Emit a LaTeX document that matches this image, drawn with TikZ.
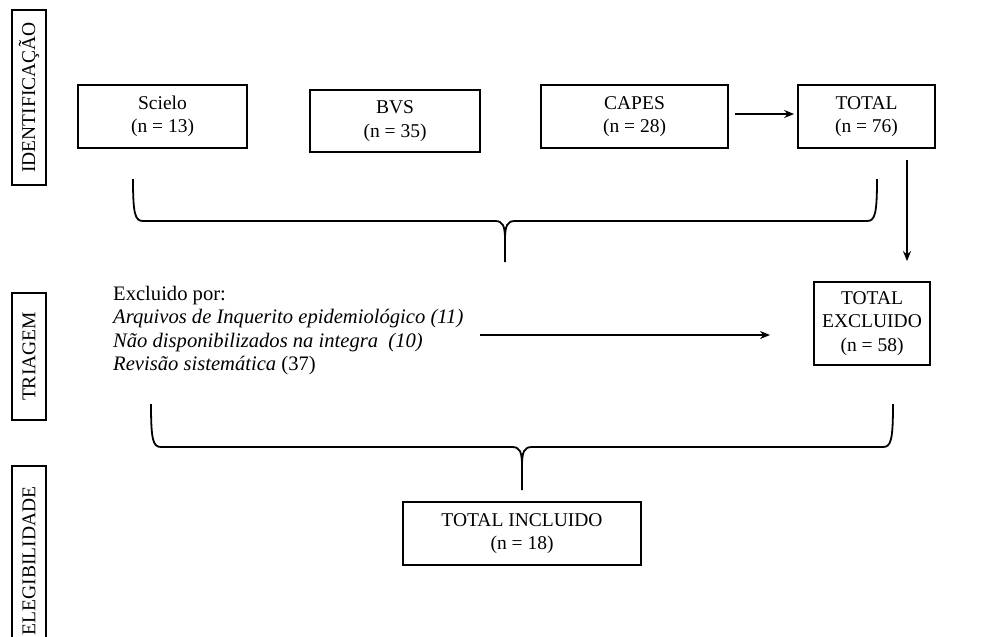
\documentclass[tikz,border=0pt]{standalone}
\usepackage{fontspec}
\setmainfont{Liberation Serif}
\usetikzlibrary{arrows.meta,calc}
\begin{document}
\begin{tikzpicture}[x=1pt,y=-1pt,
  box/.style={draw,line width=1.8pt,inner sep=0pt,align=center,
    font=\fontsize{19.5}{23.5}\selectfont},
  lab/.style={draw,line width=1.8pt,inner sep=0pt,minimum width=34pt,
    font=\fontsize{19.5}{23}\selectfont},
  arr/.style={line width=1.3pt,-{Stealth[length=10pt,width=8pt]}},
  brace/.style={line width=1.8pt}]
\useasboundingbox (0,0) rectangle (993,637);
% phase labels
\node[lab,minimum height=175pt] (lid) at (29,97.5) {\rotatebox{90}{IDENTIFICAÇÃO}};
\node[lab,minimum height=127pt] (ltr) at (29,356.5) {\rotatebox{90}{TRIAGEM}};
\node[lab,minimum height=190pt,anchor=north] (lel) at (29,465) {\rotatebox{90}{ELEGIBILIDADE}};
% top row
\node[box,minimum width=169pt,minimum height=63pt] (scielo) at (162.5,116.5) {Scielo\\(n = 13)};
\node[box,minimum width=170pt,minimum height=62pt] (bvs) at (395,121) {BVS\\(n = 35)};
\node[box,minimum width=187pt,minimum height=63pt] (capes) at (634.5,116.5) {CAPES\\(n = 28)};
\node[box,minimum width=137pt,minimum height=63pt] (total) at (866.5,116.5) {TOTAL\\(n = 76)};
% excluded
\node[box,minimum width=116pt,minimum height=83pt] (excl) at (872,323.5) {TOTAL\\EXCLUIDO\\(n = 58)};
\node[anchor=north west,inner sep=0pt,align=left,font=\fontsize{20.6}{23.3}\selectfont] (list) at (113,286)
  {Excluido por:\\
   \textit{Arquivos de Inquerito epidemiológico (11)}\\
   \textit{Não disponibilizados na integra\ \ (10)}\\
   \textit{Revisão sistemática} (37)};
% included
\node[box,minimum width=238pt,minimum height=63pt] (incl) at (522,533.5) {TOTAL INCLUIDO\\(n = 18)};
% arrows
\draw[arr] ([xshift=6pt,yshift=2.5pt]capes.east) -- ([xshift=-3pt,yshift=2.5pt]total.west);
\draw[arr] ([xshift=40.5pt,yshift=-11pt]total.south) -- ([xshift=35pt,yshift=20pt]excl.north);
\coordinate (aend) at (770,335);
\draw[arr] (list.east |- aend) ++(16,0) coordinate (astart) (astart) -- (aend);
% braces
\draw[brace] (133,179) .. controls (133,214) and (135,221) .. (143,221) -- (495,221)
  .. controls (503,221) and (505,226) .. (505,240) -- (505,262);
\draw[brace] (877,179) .. controls (877,214) and (875,221) .. (867,221) -- (515,221)
  .. controls (507,221) and (505,226) .. (505,240);
\draw[brace] (151,404) .. controls (151,440) and (153,447) .. (161,447) -- (512,447)
  .. controls (520,447) and (522,452) .. (522,466) -- (522,490);
\draw[brace] (893,404) .. controls (893,440) and (891,447) .. (883,447) -- (532,447)
  .. controls (524,447) and (522,452) .. (522,466);
\end{tikzpicture}
\end{document}
